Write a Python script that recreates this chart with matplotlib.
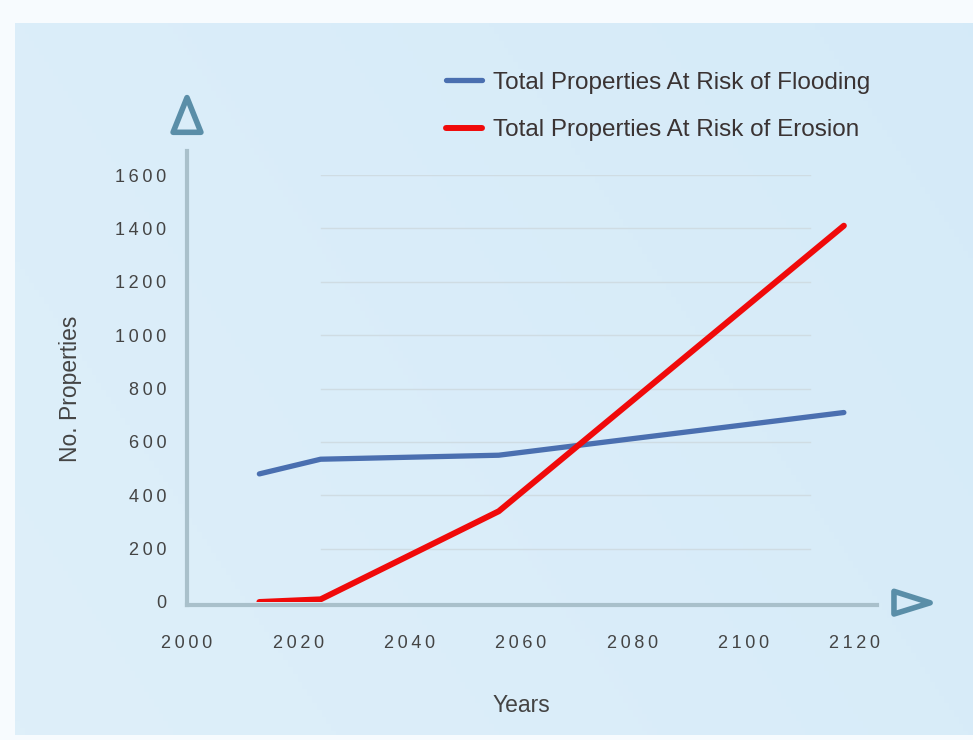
import matplotlib
matplotlib.use("Agg")
import matplotlib.pyplot as plt
import numpy as np
from matplotlib.patches import Polygon

years = [2013, 2024, 2056, 2118]
flooding = [480, 535, 550, 710]
erosion = [0, 10, 340, 1410]
x_ticks = [2000, 2020, 2040, 2060, 2080, 2100, 2120]
y_ticks = [0, 200, 400, 600, 800, 1000, 1200, 1400, 1600]

W, H = 973, 740
fig = plt.figure(figsize=(W / 100, H / 100), dpi=100, facecolor="#f7fbfe")

# light blue backdrop
bg = fig.add_axes([15 / W, 5 / H, 1 - 15 / W, 1 - 28 / H])
gy, gx = np.mgrid[0:1:200j, 0:1:200j]
shade = 0.55 + 0.3 * gx - 0.15 * gy
bg.imshow(shade, cmap=matplotlib.colors.LinearSegmentedColormap.from_list(
    "bgc", ["#e6f3fb", "#d2e9f8"]), aspect="auto", vmin=0, vmax=1,
    extent=[0, 1, 0, 1])
bg.axis("off")

x0, x1 = 187, 855
y0, y1 = 602, 175
ax = fig.add_axes([x0 / W, 1 - y0 / H, (x1 - x0) / W, (y0 - y1) / H])
ax.set_facecolor("none")
ax.set_xlim(2000, 2120)
ax.set_ylim(0, 1600)

for yt in y_ticks[1:]:
    ax.plot([2024, 2112], [yt, yt], color="#cfdce3", lw=1, zorder=1)

ax.plot(years, flooding, color="#4a6fb0", lw=3.8, solid_capstyle="round",
        zorder=3, label="Total Properties At Risk of Flooding")
ax.plot(years, erosion, color="#f00a0a", lw=4.3, solid_capstyle="round",
        zorder=4, label="Total Properties At Risk of Erosion")

for s in ax.spines.values():
    s.set_visible(False)
axis_col = "#a9c0cb"
ax.plot([2000, 2000], [-10, 1690], color=axis_col, lw=3, clip_on=False, zorder=2)
ax.plot([2000, 2124], [-10, -10], color=axis_col, lw=3, clip_on=False, zorder=2)

arrow_col = "#5a8ea8"
tri_up = Polygon([[2000, 1890], [1997.5, 1760], [2002.5, 1760]], closed=True,
                 fill=False, edgecolor=arrow_col, lw=4, joinstyle="round",
                 clip_on=False)
ax.add_patch(tri_up)
tri_right = Polygon([[2127, -45], [2127, 40], [2133.5, -3]], closed=True,
                    fill=False, edgecolor=arrow_col, lw=4, joinstyle="round",
                    clip_on=False)
ax.add_patch(tri_right)


def spaced(v):
    return "\u2009".join(str(v))


ax.set_xticks(x_ticks)
ax.set_xticklabels([spaced(v) for v in x_ticks])
ax.set_yticks(y_ticks)
ax.set_yticklabels([spaced(v) for v in y_ticks])
ax.tick_params(length=0, labelsize=13, colors="#444444")
ax.tick_params(axis="x", pad=24)
ax.tick_params(axis="y", pad=15)
for lab in ax.get_xticklabels() + ax.get_yticklabels():
    lab.set_fontfamily(["Liberation Sans", "DejaVu Sans"])

ax.set_xlabel("Years", fontsize=16.5, color="#444444", labelpad=30,
              fontfamily="Liberation Sans")
ax.set_ylabel("No. Properties", fontsize=16.5, color="#444444", labelpad=24,
              fontfamily="Liberation Sans")

leg = fig.legend(loc="upper left", bbox_to_anchor=(424 / W, 1 - 50 / H),
                 frameon=False, handlelength=1.5,
                 labelspacing=1.05, handletextpad=0.45,
                 prop={"family": "Liberation Sans", "size": 17.5})
for t in leg.get_texts():
    t.set_color("#3a3333")

fig.savefig("out.png", dpi=100, facecolor=fig.get_facecolor())
